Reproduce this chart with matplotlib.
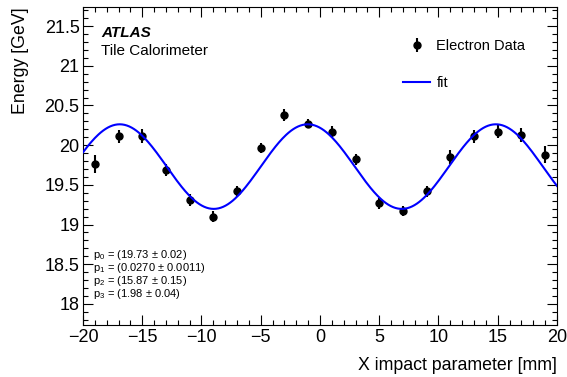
import numpy as np
import matplotlib
matplotlib.use('Agg')
from matplotlib import pyplot as plt
from matplotlib.ticker import MultipleLocator, FuncFormatter

plt.rcParams['font.family'] = ['Liberation Sans', 'DejaVu Sans']
plt.rcParams['mathtext.fontset'] = 'custom'
plt.rcParams['mathtext.rm'] = 'Liberation Sans'
plt.rcParams['mathtext.it'] = 'Liberation Sans:italic'

# Electron data
x_pos = [-19, -17, -15, -13, -11, -9, -7, -5, -3, -1,
         1, 3, 5, 7, 9, 11, 13, 15, 17, 19]
energia = [19.76, 20.11, 20.11, 19.69, 19.31, 19.10, 19.42, 19.96, 20.38, 20.27,
           20.17, 19.82, 19.27, 19.17, 19.42, 19.85, 20.11, 20.17, 20.13, 19.88]
erro = [0.11, 0.085, 0.088, 0.074, 0.073, 0.07, 0.067, 0.063, 0.071, 0.06,
        0.067, 0.07, 0.07, 0.067, 0.067, 0.084, 0.084, 0.084, 0.084, 0.105]

# Parametros do fit
p0, p1, p2, p3 = 19.73, 0.0270, 15.87, 1.98
textos_par = [r'p$_{0}$ = (19.73 $\pm$ 0.02)',
              r'p$_{1}$ = (0.0270 $\pm$ 0.0011)',
              r'p$_{2}$ = (15.87 $\pm$ 0.15)',
              r'p$_{3}$ = (1.98 $\pm$ 0.04)']

fig = plt.figure(figsize=(5.67, 3.77), dpi=100)
ax = fig.add_axes([83 / 567, 1 - 325 / 377, 474 / 567, 318 / 377])

xf = np.linspace(-20, 20, 400)
yf = p0 * (1 + p1 * np.sin(2 * np.pi * xf / p2 + p3))

h_dados = ax.errorbar(x_pos, energia, yerr=erro, fmt='o', color='black',
                      markersize=5, elinewidth=1.5, capsize=0, zorder=3)
h_fit, = ax.plot(xf, yf, color='#0000ff', linewidth=1.5, zorder=4)

ax.set_xlim(-20, 20)
ax.set_ylim(17.735, 21.74)
ax.xaxis.set_major_locator(MultipleLocator(5))
ax.xaxis.set_minor_locator(MultipleLocator(1))
ax.yaxis.set_major_locator(MultipleLocator(0.5))
ax.yaxis.set_minor_locator(MultipleLocator(0.1))
ax.yaxis.set_major_formatter(FuncFormatter(lambda v, p: f'{v:g}'))
ax.xaxis.set_major_formatter(FuncFormatter(lambda v, p: f'{v:g}'.replace('-', '\u2212')))
ax.tick_params(which='both', direction='in', top=True, right=True, labelsize=13)
ax.tick_params(which='major', length=7, width=0.8)
ax.tick_params(which='minor', length=3.5, width=0.8)
ax.tick_params(axis='x', pad=3)
ax.tick_params(axis='y', pad=2.5)

ax.set_xlabel('X impact parameter [mm]', fontsize=12.8, loc='right', labelpad=8)
ax.set_ylabel('Energy [GeV]', fontsize=12.8, loc='top', labelpad=11)

ax.text(0.038, 0.917, 'ATLAS', transform=ax.transAxes, fontsize=11,
        fontweight='bold', fontstyle='italic', va='center')
ax.text(0.038, 0.862, 'Tile Calorimeter', transform=ax.transAxes, fontsize=11,
        va='center')

for i, t in enumerate(textos_par):
    ax.text(0.021, 0.22 - i * 0.041, t, transform=ax.transAxes, fontsize=8,
            va='center')

leg = ax.legend([h_dados, h_fit], ['Electron Data', 'fit'], loc='upper left',
                bbox_to_anchor=(403 / 567, 1 - 39 / 377), bbox_transform=fig.transFigure,
                frameon=False, fontsize=10.5, handlelength=1.88, handletextpad=0.41,
                labelspacing=1.6, borderpad=0, borderaxespad=0)

fig.savefig('out.png', dpi=100)
